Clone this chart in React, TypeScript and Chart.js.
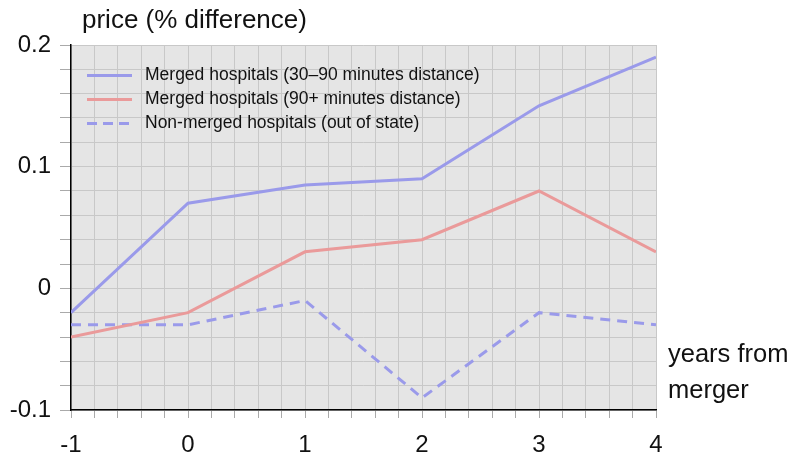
import React, { useEffect, useRef } from "react";
import { Chart, registerables } from "chart.js";

Chart.register(...registerables);

const years = [-1, 0, 1, 2, 3, 4];
const merged3090 = [-0.02, 0.07, 0.085, 0.09, 0.15, 0.19];
const merged90 = [-0.04, -0.02, 0.03, 0.04, 0.08, 0.03];
const nonMerged = [-0.03, -0.03, -0.01, -0.09, -0.02, -0.03];
const seriesLabels = [
  "Merged hospitals (30–90 minutes distance)",
  "Merged hospitals (90+ minutes distance)",
  "Non-merged hospitals (out of state)",
];
const yTitle = "price (% difference)";
const xTitleLines = ["years from", "merger"];

const BLUE = "rgb(154,154,234)";
const RED = "rgb(234,154,154)";
const FONT = "'Liberation Sans', Arial, Helvetica, sans-serif";

const isMajor = (v: number, step: number) =>
  Math.abs(v / step - Math.round(v / step)) < 1e-6;

export default function App() {
  const ref = useRef<HTMLCanvasElement | null>(null);
  useEffect(() => {
    const toPts = (arr: number[]) => years.map((x, i) => ({ x, y: arr[i] }));
    const decor = {
      id: "decor",
      beforeDraw(chart: any) {
        const { ctx, chartArea: a } = chart;
        ctx.save();
        ctx.fillStyle = "#e5e5e5";
        ctx.fillRect(a.left, a.top, a.right - a.left, a.bottom - a.top);
        ctx.restore();
      },
      afterDraw(chart: any) {
        const { ctx, chartArea: a } = chart;
        ctx.save();
        ctx.fillStyle = "#111";
        ctx.textBaseline = "alphabetic";
        ctx.textAlign = "left";
        ctx.font = `26px ${FONT}`;
        ctx.fillText(yTitle, 82, 28);
        ctx.font = `25.5px ${FONT}`;
        ctx.fillText(xTitleLines[0], a.right + 12, 362);
        ctx.fillText(xTitleLines[1], a.right + 12, 398);
        // legend
        ctx.font = `17.5px ${FONT}`;
        ctx.textBaseline = "middle";
        chart.data.datasets.forEach((ds: any, i: number) => {
          const y = 75.5 + i * 24;
          ctx.beginPath();
          ctx.strokeStyle = ds.borderColor;
          ctx.lineWidth = 3;
          ctx.setLineDash(ds.borderDash ? [10, 6] : []);
          ctx.moveTo(a.left + 16, y);
          ctx.lineTo(a.left + 61, y);
          ctx.stroke();
          ctx.setLineDash([]);
          ctx.fillStyle = "#111";
          ctx.fillText(ds.label, a.left + 74, y);
        });
        ctx.restore();
      },
    };
    const chart = new Chart(ref.current!, {
      type: "line",
      data: {
        datasets: [
          { label: seriesLabels[0], data: toPts(merged3090), borderColor: BLUE, borderWidth: 3 },
          { label: seriesLabels[1], data: toPts(merged90), borderColor: RED, borderWidth: 3 },
          {
            label: seriesLabels[2],
            data: toPts(nonMerged),
            borderColor: BLUE,
            borderWidth: 3,
            borderDash: [10, 7],
          },
        ],
      },
      options: {
        animation: false,
        responsive: false,
        maintainAspectRatio: false,
        elements: { point: { radius: 0 }, line: { tension: 0 } },
        layout: { padding: { top: 45, right: 137, left: 0, bottom: 0 } },
        plugins: { legend: { display: false }, tooltip: { enabled: false } },
        scales: {
          x: {
            type: "linear",
            min: -1,
            max: 4,
            afterFit: (s: any) => {
              s.height = 42;
            },
            ticks: {
              stepSize: 0.2,
              autoSkip: false,
              maxRotation: 0,
              padding: 13,
              color: "#111",
              font: { size: 24, family: FONT },
              callback: (v: any) => (isMajor(Number(v), 1) ? String(Math.round(Number(v))) : ""),
            },
            grid: { color: "#c8c8c8", tickColor: "#aaa", tickLength: 8, lineWidth: 1 },
            border: { color: "#000", width: 1.5 },
          },
          y: {
            type: "linear",
            min: -0.1,
            max: 0.2,
            afterFit: (s: any) => {
              s.width = 71;
            },
            ticks: {
              stepSize: 0.02,
              autoSkip: false,
              padding: 9,
              color: "#111",
              font: { size: 24, family: FONT },
              callback: (v: any) => {
                const n = Number(v);
                if (!isMajor(n, 0.1)) return "";
                const r = Math.round(n * 10) / 10;
                return r === 0 ? "0" : String(r);
              },
            },
            grid: { color: "#c8c8c8", tickColor: "#aaa", tickLength: 11, lineWidth: 1 },
            border: { color: "#000", width: 1.5 },
          },
        },
      },
      plugins: [decor],
    } as any);
    return () => chart.destroy();
  }, []);
  return (
    <div style={{ position: "fixed", left: 0, top: 0, width: 793, height: 452, background: "#fff" }}>
      <canvas ref={ref} width={793} height={452} style={{ width: 793, height: 452 }} />
    </div>
  );
}
